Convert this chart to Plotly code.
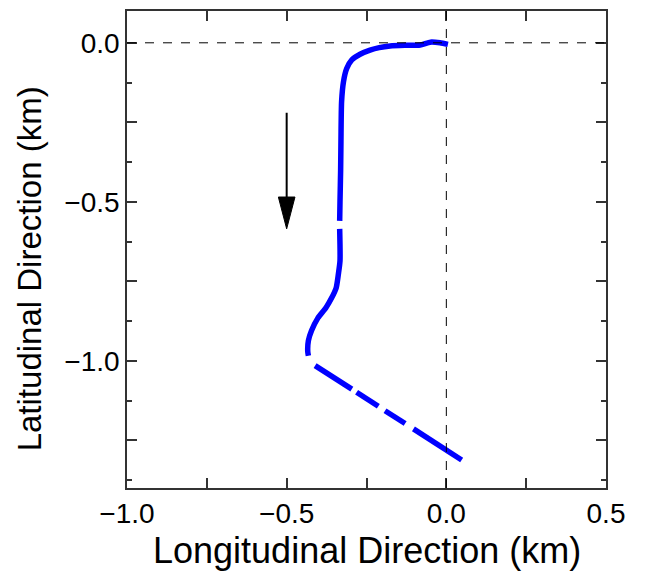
import plotly.graph_objects as go

# Vehicle path in km (None marks a break in the recorded track)
path_lon = [0.005, -0.02, -0.05, -0.082, -0.13, -0.176, -0.21, -0.239, -0.27, -0.296,
            -0.312, -0.322, -0.328, -0.330, -0.331, -0.333, -0.334, None,
            -0.334, -0.333, -0.338, -0.345, -0.359, -0.377, -0.402, -0.422, -0.432,
            -0.434, -0.432, None,
            -0.411, -0.296, None,
            -0.281, -0.213, None,
            -0.192, -0.129, None,
            -0.103, 0.048]
path_lat = [-0.005, 0.0, 0.002, -0.007, -0.008, -0.010, -0.015, -0.023, -0.036, -0.054,
            -0.081, -0.122, -0.185, -0.31, -0.40, -0.50, -0.56, None,
            -0.585, -0.686, -0.727, -0.771, -0.802, -0.833, -0.865, -0.905, -0.937,
            -0.970, -0.984, None,
            -1.015, -1.089, None,
            -1.099, -1.143, None,
            -1.157, -1.197, None,
            -1.214, -1.312]

# Heading indicator (start and tip)
arrow_lon = -0.5
arrow_lat_start = -0.22
arrow_lat_tip = -0.585
head_len = 0.10
head_half = 0.026

x_range = [-1.0, 0.5]
y_range = [-1.4, 0.1]
x_ticks = [-1.0, -0.75, -0.5, -0.25, 0.0, 0.25, 0.5]
x_labels = ["\u22121.0", "", "\u22120.5", "", "0.0", "", "0.5"]
y_ticks = [0.0, -0.25, -0.5, -0.75, -1.0, -1.25]
y_labels = ["0.0", "", "\u22120.5", "", "\u22121.0", ""]

font = "Liberation Sans, Arial, sans-serif"

fig = go.Figure()
fig.add_trace(go.Scatter(
    x=path_lon, y=path_lat, mode="lines",
    line=dict(color="#0000ff", width=5.5, shape="spline", smoothing=0.6),
    connectgaps=False, showlegend=False, hoverinfo="skip",
))

# Reference lines through the origin
fig.add_shape(type="line", xref="x", yref="paper", x0=0, x1=0, y0=0, y1=1,
              line=dict(color="black", width=1, dash="dash"))
fig.add_shape(type="line", xref="paper", yref="y", x0=0, x1=1, y0=0, y1=0,
              line=dict(color="black", width=1, dash="dash"))

# Heading arrow: shaft plus a narrow filled head
fig.add_shape(type="line", xref="x", yref="y",
              x0=arrow_lon, x1=arrow_lon, y0=arrow_lat_start, y1=arrow_lat_tip + head_len,
              line=dict(color="black", width=2))
head_path = (f"M {arrow_lon - head_half},{arrow_lat_tip + head_len} "
             f"L {arrow_lon + head_half},{arrow_lat_tip + head_len} "
             f"L {arrow_lon},{arrow_lat_tip} Z")
fig.add_shape(type="path", xref="x", yref="y", path=head_path,
              fillcolor="black", line=dict(color="black", width=1))

axis_common = dict(
    showgrid=False, zeroline=False, showline=True, linecolor="#333333", linewidth=1.5,
    mirror="ticks", ticks="inside", ticklen=10, tickwidth=1.5, tickcolor="#333333",
    tickfont=dict(family=font, size=28, color="black"),
)

fig.update_xaxes(range=x_range, tickmode="array", tickvals=x_ticks, ticktext=x_labels,
                 **axis_common)
fig.update_yaxes(range=y_range, tickmode="array", tickvals=y_ticks, ticktext=y_labels,
                 minor=dict(ticks="inside", ticklen=5, tickwidth=1.5, tickcolor="#333333",
                            tickvals=[-0.125, -0.375, -0.625, -0.875, -1.125, -1.375]),
                 **axis_common)

# Axis titles
fig.add_annotation(text="Longitudinal Direction (km)", xref="paper", yref="paper",
                   x=0.5, y=-0.1315, showarrow=False, xanchor="center", yanchor="middle",
                   font=dict(family=font, size=36, color="black"))
fig.add_annotation(text="Latitudinal Direction (km)", xref="paper", yref="paper",
                   x=-0.203, y=0.46, showarrow=False, xanchor="center", yanchor="middle",
                   textangle=-90, font=dict(family=font, size=33, color="black"))

fig.update_layout(
    width=649, height=579,
    margin=dict(l=127, r=43, t=9, b=91),
    plot_bgcolor="white", paper_bgcolor="white",
)

fig.write_html("out.html")
